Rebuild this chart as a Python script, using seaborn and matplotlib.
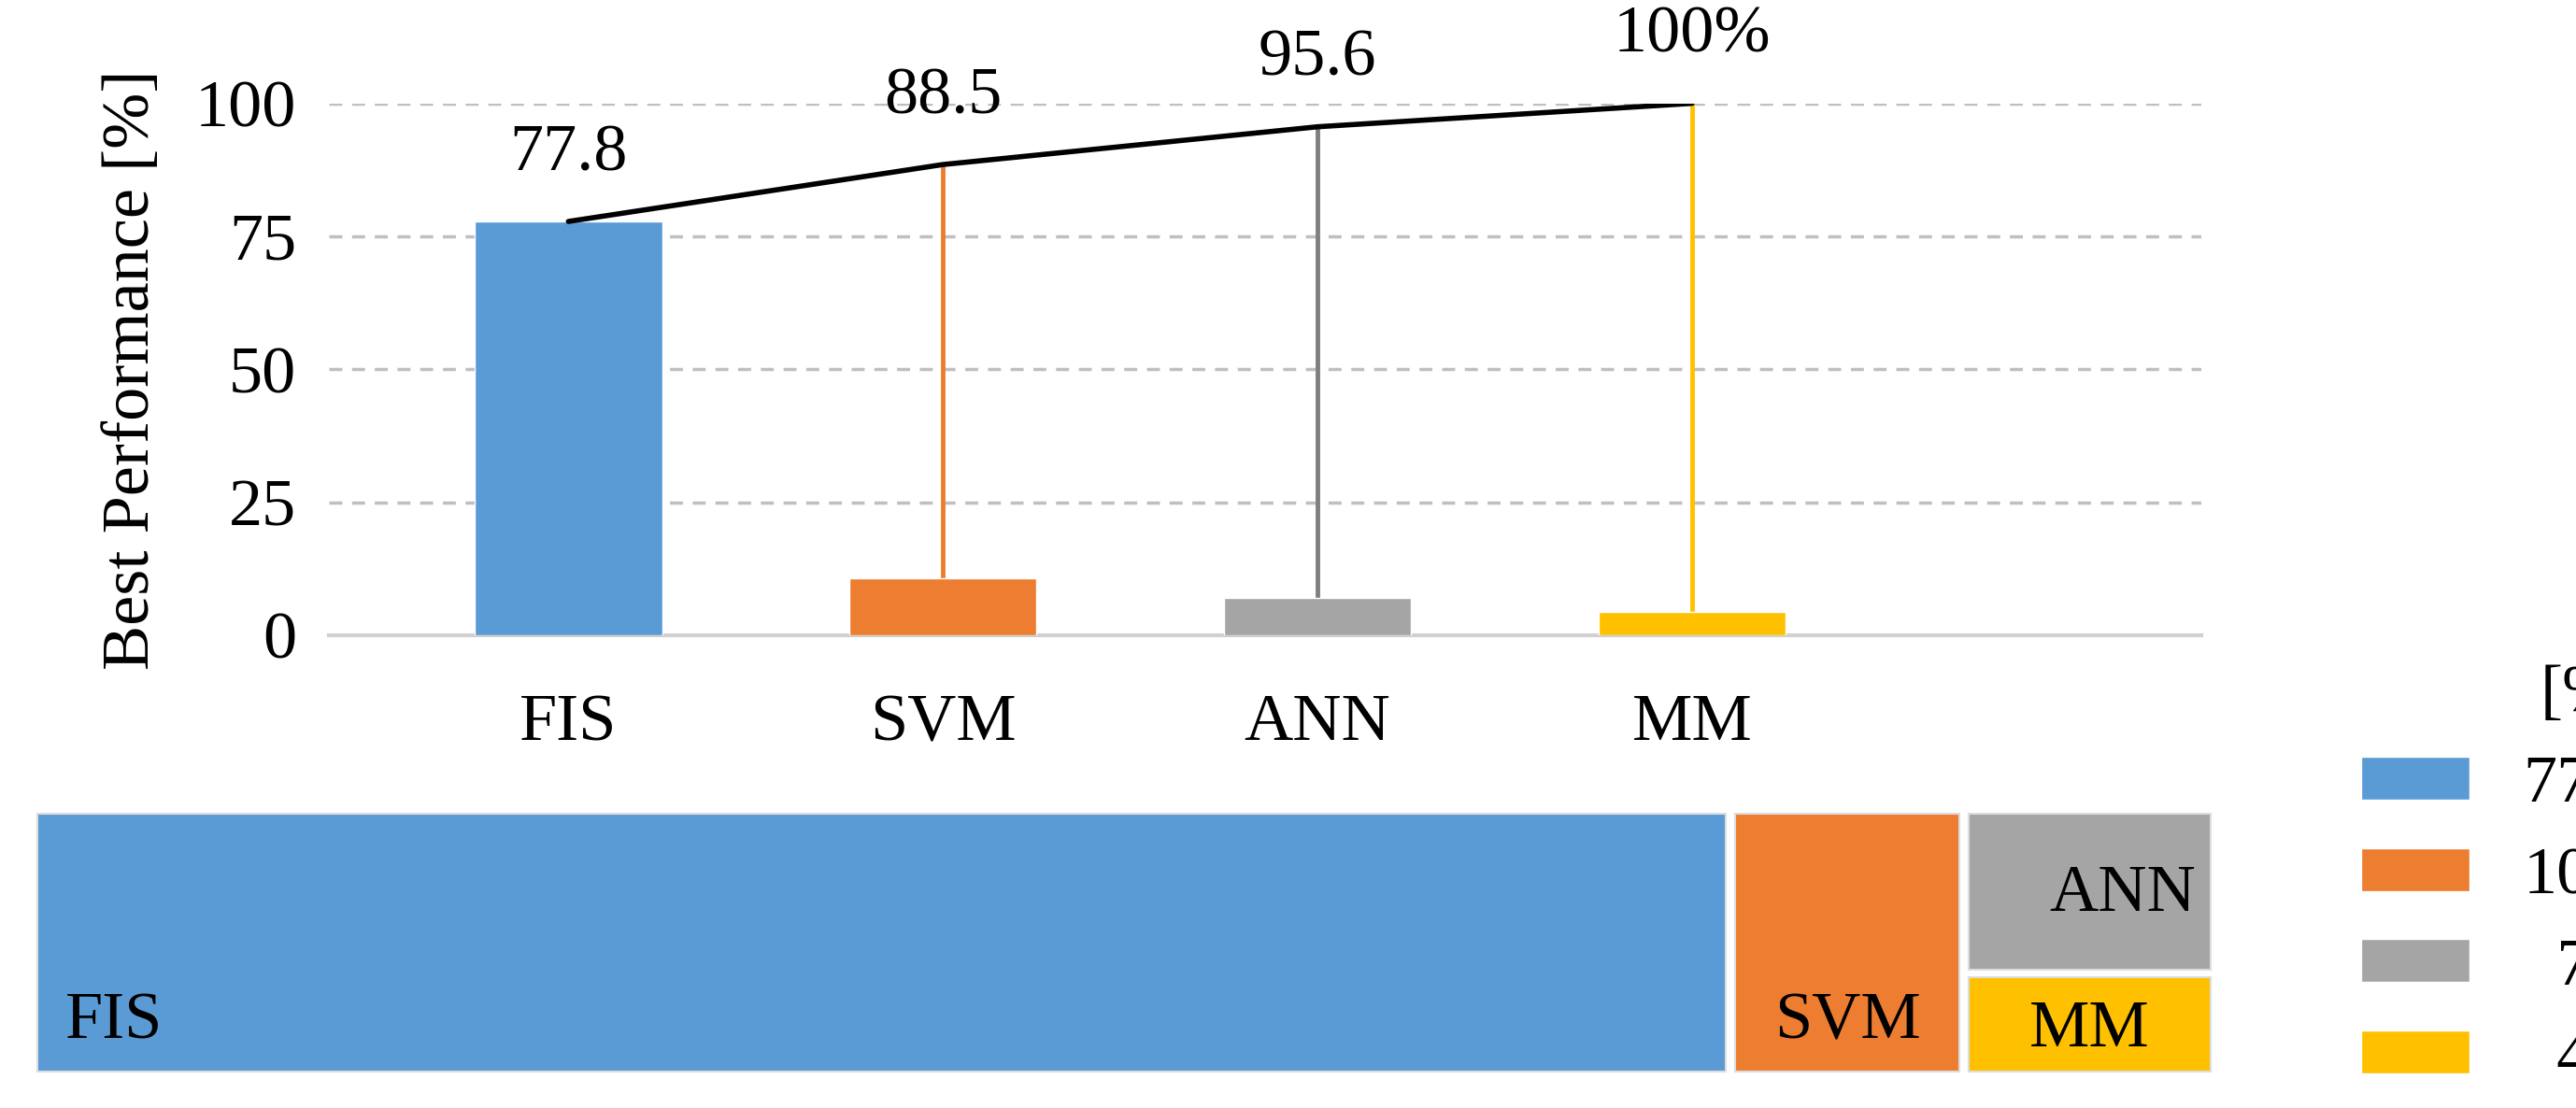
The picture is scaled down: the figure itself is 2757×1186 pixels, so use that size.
import matplotlib
matplotlib.use("Agg")
import matplotlib.pyplot as plt
from matplotlib.patches import Rectangle, Patch
import pandas as pd
import seaborn as sns

categories = ["FIS", "SVM", "ANN", "MM"]
shares = [77.8, 10.7, 7.1, 4.4]
cumulative = [77.8, 88.5, 95.6, 100.0]
cum_labels = ["77.8", "88.5", "95.6", "100%"]
colors = ["#5b9bd5", "#ed7d31", "#a5a5a5", "#ffc000"]
stem_colors = ["#5b9bd5", "#ed7d31", "#7f7f7f", "#ffc000"]

sns.set_theme(style="white")
plt.rcParams["font.family"] = ["Liberation Serif", "DejaVu Serif"]
plt.rcParams["text.color"] = "black"
plt.rcParams["xtick.color"] = "black"
plt.rcParams["ytick.color"] = "black"
plt.rcParams["axes.labelcolor"] = "black"
FS = 52

fig = plt.figure(figsize=(27.57, 11.86), dpi=100)
ax = fig.add_axes([0.1276, 0.4267, 0.727, 0.48])

df = pd.DataFrame({"cat": categories, "share": shares})
sns.barplot(data=df, x="cat", y="share", hue="cat", palette=colors,
            width=0.5, legend=False, ax=ax, zorder=3, saturation=1)
for i in range(1, 4):
    ax.plot([i, i], [shares[i], cumulative[i]], color=stem_colors[i], lw=3.5, zorder=2)
ax.plot(range(4), cumulative, color="black", lw=4, zorder=4)
for i, (v, t) in enumerate(zip(cumulative, cum_labels)):
    ax.text(i, v + 7, t, ha="center", va="bottom", fontsize=FS)

ax.set_xlim(-0.64, 4.36)
ax.set_ylim(0, 100)
ax.set_yticks([0, 25, 50, 75, 100])
ax.yaxis.grid(True, ls=(0, (4, 3)), color="#bfbfbf", lw=2.5)
ax.set_axisbelow(True)
for s in ["left", "right", "top"]:
    ax.spines[s].set_visible(False)
ax.spines["bottom"].set_color("#d0d0d0")
ax.spines["bottom"].set_linewidth(3)
ax.tick_params(axis="x", length=0, pad=45, labelsize=FS)
ax.tick_params(axis="y", length=0, pad=25, labelsize=FS)
ax.set_xlabel("")
ax.set_ylabel("Best Performance [%]", fontsize=FS, labelpad=25)

# treemap
tm = fig.add_axes([0.0128, 0.0296, 0.847, 0.2400])
tm.set_xlim(0, 100)
tm.set_ylim(0, 1)
tm.axis("off")
gap = 0.4
rest = shares[2] + shares[3]
rects = [
    (0, 0, shares[0], 1),
    (shares[0], 0, shares[1], 1),
    (shares[0] + shares[1], shares[3] / rest, rest, shares[2] / rest),
    (shares[0] + shares[1], 0, rest, shares[3] / rest),
]
for (x, y, w, h), c in zip(rects, colors):
    tm.add_patch(Rectangle((x + gap / 2, y + 0.015), w - gap, h - 0.03,
                           facecolor=c, edgecolor="#dddddd", lw=1.5))
tm.text(1.5, 0.2, "FIS", fontsize=FS, va="center", ha="left")
tm.text(shares[0] + shares[1] / 2, 0.2, "SVM", fontsize=FS, va="center", ha="center")
x0 = shares[0] + shares[1]
tm.text(x0 + rest / 2 + 1.5, 0.68, "ANN", fontsize=FS, va="center", ha="center")
tm.text(x0 + rest / 2, 0.17, "MM", fontsize=FS, va="center", ha="center")

handles = [Patch(facecolor=c) for c in colors]
fig.legend(handles, ["77.8", "10.7", "  7.1", "  4.4"], title="[%]",
           loc="upper left", bbox_to_anchor=(0.893, 0.455), frameon=False,
           fontsize=FS, title_fontsize=FS, handlelength=1.6, handleheight=0.6,
           labelspacing=0.45, alignment="right")

fig.savefig("out.png", dpi=100)
